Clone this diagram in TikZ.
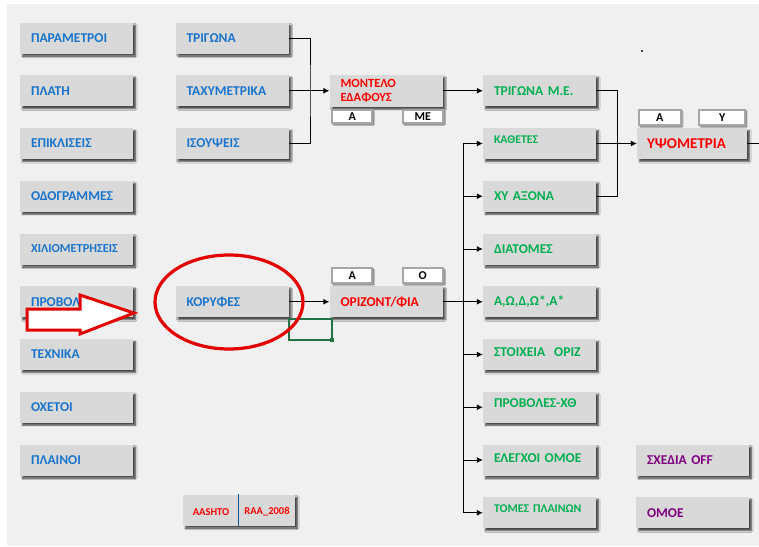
\documentclass[tikz,border=0pt]{standalone}
\usepackage{fontspec}
\setmainfont{Carlito}
\usepackage{tikz}
\usetikzlibrary{arrows.meta, positioning, shadows.blur}
\definecolor{sheet}{HTML}{F0F0F0}
\definecolor{boxgrey}{HTML}{D9D9D9}
\definecolor{xlblue}{HTML}{1874CD}
\definecolor{xlgreen}{HTML}{00B050}
\definecolor{xlred}{HTML}{FF0000}
\definecolor{xlpurple}{HTML}{800080}
\definecolor{selgreen}{HTML}{217346}
\tikzset{x = 1pt, y = -1pt,
	 node distance = 52.75pt, on grid,
	 >= {Latex[length = 6pt, width = 6pt]},
	 btn/.style = {fill = boxgrey, minimum width = 113pt,
		       minimum height = 31pt, inner xsep = 11pt,
		       text width = 91pt, align = left,
		       font = \bfseries\fontsize{13.5}{15}\selectfont,
		       blur shadow = {shadow xshift = 2.5pt,
				      shadow yshift = -2.5pt,
				      shadow blur radius = 1.5pt,
				      shadow opacity = 70}},
	 navbtn/.style = {btn, text = xlblue},
	 calcbtn/.style = {btn, text = xlgreen},
	 runbtn/.style = {btn, text = xlred},
	 optbtn/.style = {btn, text = xlpurple},
	 high/.style = {text depth = 8pt},
	 small/.style = {font = \bfseries\fontsize{11.8}{13}\selectfont},
	 tag/.style = {fill = white, draw = black!35, line width = 1.8pt,
		       minimum width = 40pt, minimum height = 13pt,
		       inner sep = 0pt,
		       font = \bfseries\fontsize{12}{13}\selectfont,
		       blur shadow = {shadow xshift = 1.5pt,
				      shadow yshift = -1.5pt,
				      shadow blur radius = 1pt,
				      shadow opacity = 60}},
	 link/.style = {line width = 0.9pt},
	 ring/.style = {draw = red!90!black, line width = 3.2pt},
	 hint/.style = {draw = red!90!black, line width = 3pt,
			fill = white, line join = miter}}

\begin{document}
\begin{tikzpicture}
  \useasboundingbox (0,0) rectangle (759,546);
  \fill [white] (0,0) rectangle (759,546);
  \fill [sheet] (7,4) rectangle (759,546);
  \fill [black!70] (641,50) rectangle (643,52);

  % first column
  \node [navbtn] (param) at (76.5,38) {ΠΑΡΑΜΕΤΡΟΙ};
  \node [navbtn] (plati) [below = of param] {ΠΛΑΤΗ};
  \node [navbtn] (epikl) [below = of plati] {ΕΠΙΚΛΙΣΕΙΣ};
  \node [navbtn] (odogr) [below = of epikl] {ΟΔΟΓΡΑΜΜΕΣ};
  \node [navbtn, font = \bfseries\fontsize{12.3}{14}\selectfont] (xiliom) [below = of odogr] {ΧΙΛΙΟΜΕΤΡΗΣΕΙΣ};
  \node [navbtn] (provol) [below = of xiliom] {ΠΡΟΒΟΛΕΣ};
  \node [navbtn] (texn) [below = of provol] {ΤΕΧΝΙΚΑ};
  \node [navbtn] (oxet) [below = of texn] {ΟΧΕΤΟΙ};
  \node [navbtn] (plain) [below = of oxet] {ΠΛΑΙΝΟΙ};

  % second column
  \node [navbtn] (trig) at (232,38) {ΤΡΙΓΩΝΑ};
  \node [navbtn] (taxy) [below = of trig] {ΤΑΧΥΜΕΤΡΙΚΑ};
  \node [navbtn] (isoy) [below = of taxy] {ΙΣΟΥΨΕΙΣ};
  \node [navbtn] (koryf) at (232,301.75) {ΚΟΡΥΦΕΣ};
  \node [btn, minimum width = 112pt, text width = 90pt] (refb) at (239,510) {};
  \node [text = xlred, font = \bfseries\fontsize{10.5}{12}\selectfont]
	(aash) at (211,512) {AASHTO};
  \node [text = xlred, font = \bfseries\fontsize{10.5}{12}\selectfont]
	(raa) at (267,512) {RAA\_2008};
  \draw [xlblue!70!black] ([xshift = -1pt] refb.north) -- ([xshift = -1pt] refb.south);

  % models
  \node [runbtn, font = \bfseries\fontsize{12.5}{14}\selectfont,
	 minimum height = 32pt] (model) at (386,90.75) {ΜΟΝΤΕΛΟ\\ΕΔΑΦΟΥΣ};
  \node [tag, anchor = north west] (modA) at ([xshift = 2pt, yshift = -2pt] model.south west) {Α};
  \node [tag, anchor = north east] (modME) at ([xshift = 1pt, yshift = -2pt] model.south east) {ΜΕ};
  \node [runbtn] (oriz) at (386,301.75) {ΟΡΙΖΟΝΤ/ΦΙΑ};
  \node [tag, anchor = south west, minimum height = 15pt] (orA) at ([xshift = 2pt, yshift = 2pt] oriz.north west) {Α};
  \node [tag, anchor = south east, minimum height = 15pt] (orO) at ([xshift = 1pt, yshift = 2pt] oriz.north east) {Ο};

  % third column
  \node [calcbtn] (trime) at (539.5,90.75) {ΤΡΙΓΩΝΑ Μ.Ε.};
  \node [calcbtn, small, high] (kath) [below = of trime] {ΚΑΘΕΤΕΣ};
  \node [calcbtn] (xy) [below = of kath] {ΧΥ ΑΞΟΝΑ};
  \node [calcbtn] (diat) [below = of xy] {ΔΙΑΤΟΜΕΣ};
  \node [calcbtn] (aoda) [below = of diat] {Α,Ω,Δ,Ω*,Α*};
  \node [calcbtn, text depth = 4pt] (stoix) [below = of aoda] {ΣΤΟΙΧΕΙΑ\ \ ΟΡΙΖ};
  \node [calcbtn, high] (prob) [below = of stoix] {ΠΡΟΒΟΛΕΣ-ΧΘ};
  \node [calcbtn, text depth = 4pt] (eleg) [below = of prob] {ΕΛΕΓΧΟΙ ΟΜΟΕ};
  \node [calcbtn, small, high] (tomes) [below = of eleg] {ΤΟΜΕΣ ΠΛΑΙΝΩΝ};

  % right column
  \node [runbtn, minimum width = 110pt, text width = 90pt, inner xsep = 10pt,
	 font = \bfseries\fontsize{15}{17}\selectfont] (ypso) at (692,143.5) {ΥΨΟΜΕΤΡΙΑ};
  \node [tag, anchor = south west, minimum width = 42pt, minimum height = 15pt] (ypA) at ([xshift = 1pt, yshift = 2pt] ypso.north west) {Α};
  \node [tag, anchor = south east, minimum width = 46pt, minimum height = 15pt] (ypY) at ([xshift = -1pt, yshift = 2pt] ypso.north east) {Υ};
  \node [optbtn] (sxed) at (692.5,460) {ΣΧΕΔΙΑ OFF};
  \node [optbtn] (omoe) [below = of sxed] {ΟΜΟΕ};

  % connectors
  \coordinate (j1) at (310,90.75);
  \coordinate (j2) at (617,143.5);
  \coordinate (j3) at (463,0);
  \coordinate (rim) at (759,143.5);
  \draw [link] (trig) -| (j1) |- (isoy);
  \draw [link, ->] (taxy) -- (model);
  \draw [link, ->] (model) -- (trime);
  \draw [link] (trime) -| (j2) |- (xy);
  \draw [link, ->] (kath) -- (ypso);
  \draw [link] (ypso) -- (rim);
  \draw [link, ->] (koryf) -- (oriz);
  \draw [link, ->] (oriz) -- (aoda);
  \draw [link] (kath.west -| j3) -- (tomes.west -| j3);
  \foreach \n in {kath, xy, diat, stoix, prob, eleg, tomes}
    \draw [link, ->] (\n.west -| j3) -- (\n);

  % selected cell
  \draw [selgreen, line width = 1.2pt] (289,319) rectangle (332,340);
  \fill [selgreen] (330,338) rectangle (334,342);

  % marks
  \draw [ring] (229,302) ellipse [x radius = 74, y radius = 47];
  \draw [hint] (27,309) -- (80,309) -- (80,295) -- (134,313)
	       -- (80,334) -- (80,330) -- (27,330) -- cycle;
\end{tikzpicture}
\end{document}
